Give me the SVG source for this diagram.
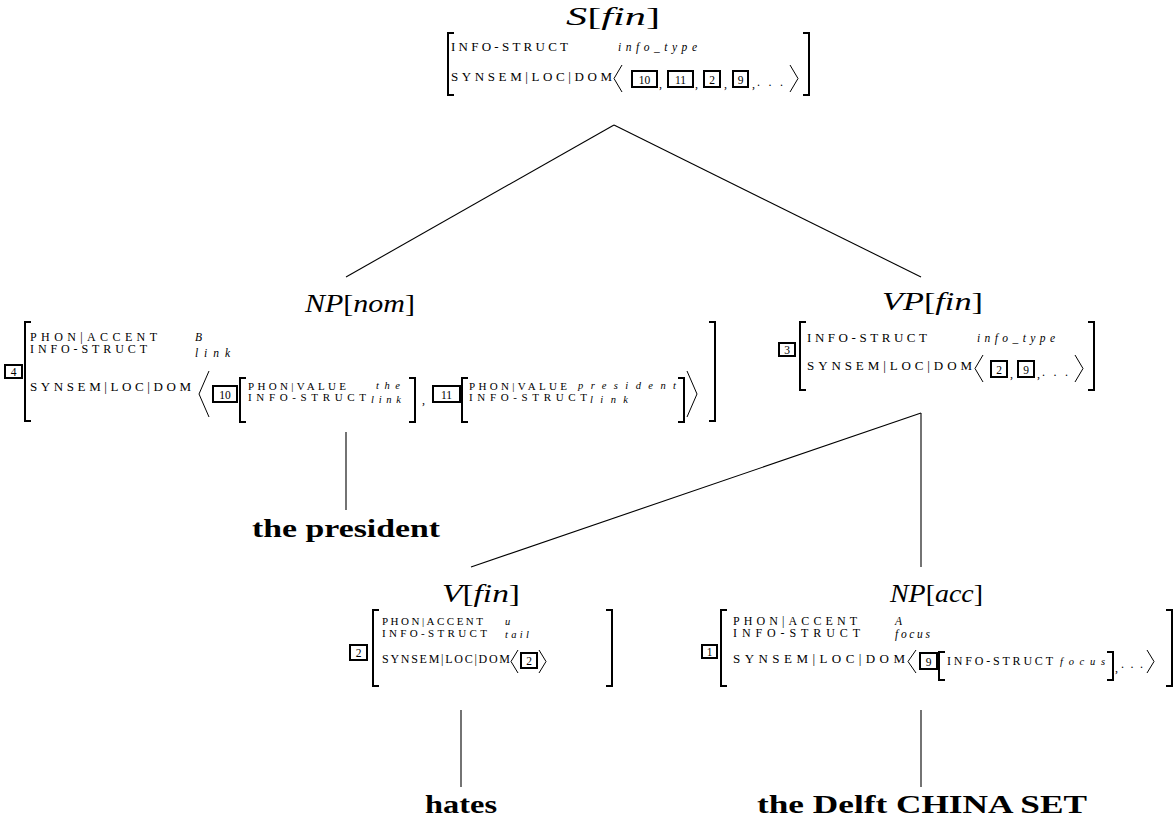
<svg xmlns="http://www.w3.org/2000/svg" width="1175" height="822" viewBox="0 0 1175 822">
<style>
text{font-family:"Liberation Serif","DejaVu Serif",serif;fill:#000}
.ft{font-size:12px}
.fl{font-size:13px}
.ft2{font-size:11px}
.it{font-size:11.5px;font-style:italic}
.is{font-size:10.5px;font-style:italic}
.num{font-size:11.5px;text-anchor:middle}
.lab{font-size:26px;font-style:italic}
.rm{font-style:normal}
.bold{font-size:26px;font-weight:bold}
.bx{fill:none;stroke:#000;stroke-width:2}
.br{fill:none;stroke:#000;stroke-width:2}
.ang{fill:none;stroke:#000;stroke-width:1}
.edge{fill:none;stroke:#000;stroke-width:1.1}
</style>
<g id="connectors">
<path class="edge" d="M614,125 L346,277"/>
<path class="edge" d="M614,125 L921,277"/>
<path class="edge" d="M346,432 L346,510"/>
<path class="edge" d="M921,413 L471,567"/>
<path class="edge" d="M921,413 L921,567"/>
<path class="edge" d="M461,710 L461,787"/>
<path class="edge" d="M921,710 L921,787"/>
</g>
<g id="node-S">
<text class="lab" x="566" y="25" textLength="94" lengthAdjust="spacingAndGlyphs">S<tspan class="rm">[</tspan>fin<tspan class="rm">]</tspan></text>
<path class="br" d="M454,33 H448 V95 H454"/>
<text class="fl" x="451" y="51" textLength="117">INFO-STRUCT</text>
<text class="it" x="618" y="51" textLength="79">info_type</text>
<text class="fl" x="451" y="81" textLength="161">SYNSEM|LOC|DOM</text>
<path class="ang" d="M622,65 L614,78.5 L622,92"/>
<rect class="bx" x="632" y="71" width="25" height="16"/><text class="num" x="644.5" y="83.5">10</text>
<text class="ft" x="659" y="88">,</text>
<rect class="bx" x="668" y="71" width="25" height="16"/><text class="num" x="680.5" y="83.5">11</text>
<text class="ft" x="695" y="88">,</text>
<rect class="bx" x="704" y="71" width="16" height="16"/><text class="num" x="712" y="83.5">2</text>
<text class="ft" x="724" y="88">,</text>
<rect class="bx" x="733" y="71" width="15" height="16"/><text class="num" x="740.5" y="83.5">9</text>
<text class="ft" x="752" y="88">,</text>
<text class="ft" x="757" y="86" textLength="26">. . .</text>
<path class="ang" d="M790,65 L798,78.5 L790,92"/>
<path class="br" d="M803,33 H809 V95 H803"/>
</g>
<g id="node-NPnom">
<text class="lab" x="305" y="312" textLength="110" lengthAdjust="spacingAndGlyphs">NP<tspan class="rm">[</tspan>nom<tspan class="rm">]</tspan></text>
<rect class="bx" x="5" y="365" width="17" height="13"/><text class="num" x="13.5" y="376">4</text>
<path class="br" d="M31,322 H25 V421 H31"/>
<text class="ft" x="30" y="341" textLength="127">PHON|ACCENT</text>
<text class="it" x="195" y="341">B</text>
<text class="ft" x="30" y="353" textLength="117">INFO-STRUCT</text>
<text class="it" x="195" y="357" textLength="35">link</text>
<text class="fl" x="30" y="391" textLength="161">SYNSEM|LOC|DOM</text>
<path class="ang" d="M209,371 L199,394 L209,417"/>
<rect class="bx" x="213" y="386" width="24" height="16"/><text class="num" x="225" y="398.5">10</text>
<path class="br" d="M246,378 H240 V422 H246"/>
<text class="ft2" x="248" y="390" textLength="98">PHON|VALUE</text>
<text class="is" x="376" y="389" textLength="24">the</text>
<text class="ft2" x="248" y="401" textLength="118">INFO-STRUCT</text>
<text class="is" x="371" y="403" textLength="30">link</text>
<path class="br" d="M409,378 H415 V422 H409"/>
<text class="ft" x="422" y="404">,</text>
<rect class="bx" x="433" y="386" width="27" height="16"/><text class="num" x="446.5" y="398.5">11</text>
<path class="br" d="M468,378 H462 V422 H468"/>
<text class="ft2" x="469" y="390" textLength="98">PHON|VALUE</text>
<text class="is" x="578" y="389" textLength="98">president</text>
<text class="ft2" x="469" y="401" textLength="118">INFO-STRUCT</text>
<text class="is" x="590" y="403" textLength="38">link</text>
<path class="br" d="M678,378 H684 V422 H678"/>
<path class="ang" d="M687,371 L697,394 L687,417"/>
<path class="br" d="M709,322 H715 V421 H709"/>
</g>
<g id="node-VP">
<text class="lab" x="882" y="310" textLength="101" lengthAdjust="spacingAndGlyphs">VP<tspan class="rm">[</tspan>fin<tspan class="rm">]</tspan></text>
<rect class="bx" x="779" y="343" width="16" height="13"/><text class="num" x="787" y="354">3</text>
<path class="br" d="M806,322 H800 V390 H806"/>
<text class="fl" x="807" y="342" textLength="120">INFO-STRUCT</text>
<text class="it" x="977" y="342" textLength="78">info_type</text>
<text class="fl" x="807" y="370" textLength="165">SYNSEM|LOC|DOM</text>
<path class="ang" d="M983,355 L975,368.5 L983,382"/>
<rect class="bx" x="991" y="361" width="16" height="16"/><text class="num" x="999" y="373.5">2</text>
<text class="ft" x="1010" y="378">,</text>
<rect class="bx" x="1018" y="361" width="16" height="16"/><text class="num" x="1026" y="373.5">9</text>
<text class="ft" x="1037" y="378">,</text>
<text class="ft" x="1042" y="376" textLength="26">. . .</text>
<path class="ang" d="M1075,355 L1083,368.5 L1075,382"/>
<path class="br" d="M1088,322 H1094 V390 H1088"/>
</g>
<g id="node-V">
<text class="lab" x="442" y="602" textLength="78" lengthAdjust="spacingAndGlyphs">V<tspan class="rm">[</tspan>fin<tspan class="rm">]</tspan></text>
<rect class="bx" x="350" y="645" width="17" height="15"/><text class="num" x="358.5" y="657">2</text>
<path class="br" d="M379,610 H373 V686 H379"/>
<text class="ft2" x="382" y="625" textLength="101">PHON|ACCENT</text>
<text class="is" x="505" y="625">u</text>
<text class="ft2" x="382" y="637" textLength="105">INFO-STRUCT</text>
<text class="is" x="505" y="638" textLength="24">tail</text>
<text class="ft" x="382" y="663" textLength="128">SYNSEM|LOC|DOM</text>
<path class="ang" d="M518,650 L511,661.5 L518,673"/>
<rect class="bx" x="521" y="653" width="16" height="15"/><text class="num" x="529" y="665">2</text>
<path class="ang" d="M539,650 L546,661.5 L539,673"/>
<path class="br" d="M606,610 H612 V686 H606"/>
</g>
<g id="node-NPacc">
<text class="lab" x="890" y="602" textLength="93" lengthAdjust="spacingAndGlyphs">NP<tspan class="rm">[</tspan>acc<tspan class="rm">]</tspan></text>
<rect class="bx" x="702" y="645" width="15" height="13"/><text class="num" x="709.5" y="656">1</text>
<path class="br" d="M727,610 H721 V686 H727"/>
<text class="ft" x="733" y="625" textLength="124">PHON|ACCENT</text>
<text class="it" x="895" y="625">A</text>
<text class="ft" x="733" y="637" textLength="127">INFO-STRUCT</text>
<text class="it" x="895" y="638" textLength="35">focus</text>
<text class="fl" x="733" y="663" textLength="172">SYNSEM|LOC|DOM</text>
<path class="ang" d="M916,650 L908,661.5 L916,673"/>
<rect class="bx" x="920" y="653" width="17" height="16"/><text class="num" x="928.5" y="665.5">9</text>
<path class="br" d="M945,652 H939 V680 H945"/>
<text class="ft" x="947" y="665" textLength="106">INFO-STRUCT</text>
<text class="is" x="1060" y="665" textLength="45">focus</text>
<path class="br" d="M1107,652 H1113 V680 H1107"/>
<text class="ft" x="1115" y="672">,</text>
<text class="ft" x="1121" y="668" textLength="22">. . .</text>
<path class="ang" d="M1147,650 L1154,661.5 L1147,673"/>
<path class="br" d="M1166,610 H1172 V686 H1166"/>
</g>
<g id="leaf-president"><text class="bold" x="252" y="537" textLength="188" lengthAdjust="spacingAndGlyphs">the president</text></g>
<g id="leaf-hates"><text class="bold" x="425" y="813" textLength="72" lengthAdjust="spacingAndGlyphs">hates</text></g>
<g id="leaf-delft"><text class="bold" x="757" y="813" textLength="330" lengthAdjust="spacingAndGlyphs">the Delft CHINA SET</text></g>
</svg>
